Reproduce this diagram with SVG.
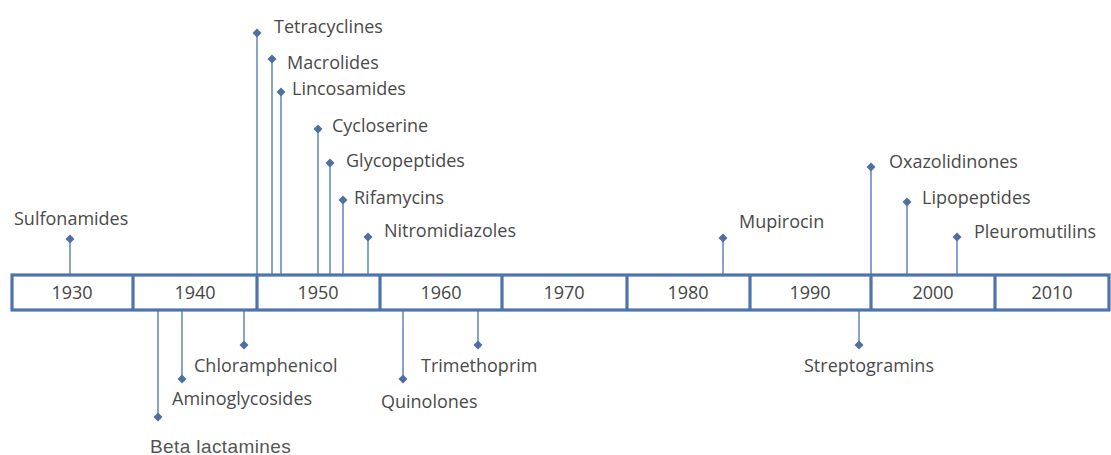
<svg xmlns="http://www.w3.org/2000/svg" width="1111" height="455" viewBox="0 0 1111 455">
<style>
.lbl{font-family:"Open Sans","Liberation Sans",sans-serif;font-size:18px;fill:#4a4a4a}
.yr{font-family:"Open Sans","Liberation Sans",sans-serif;font-size:18px;fill:#444;text-anchor:middle}
.bl{font-family:"Liberation Sans",Arial,sans-serif;font-size:19px;letter-spacing:0.4px;fill:#555}
.stem{stroke:#6a8cbf;stroke-width:1.6;fill:none}
.box{stroke:#4f74ad;stroke-width:3.2;fill:#fff}
.dv{stroke:#4f74ad;stroke-width:3.2}
</style>
<defs>
<path id="dm" d="M0,-4.5 L4.5,0 L0,4.5 L-4.5,0Z" fill="#4f6fa0"/>
</defs>
<rect width="1111" height="455" fill="#fff"/>
<g id="connectors">
<line class="stem" x1="70" y1="239" x2="70" y2="275"/>
<line class="stem" x1="257" y1="33" x2="257" y2="275"/>
<line class="stem" x1="272" y1="59" x2="272" y2="275"/>
<line class="stem" x1="281" y1="92" x2="281" y2="275"/>
<line class="stem" x1="318" y1="129" x2="318" y2="275"/>
<line class="stem" x1="330" y1="163" x2="330" y2="275"/>
<line class="stem" x1="343" y1="200" x2="343" y2="275"/>
<line class="stem" x1="368" y1="237" x2="368" y2="275"/>
<line class="stem" x1="723" y1="238" x2="723" y2="275"/>
<line class="stem" x1="871" y1="167" x2="871" y2="275"/>
<line class="stem" x1="907" y1="202" x2="907" y2="275"/>
<line class="stem" x1="957" y1="237" x2="957" y2="275"/>
<line class="stem" x1="158" y1="310" x2="158" y2="417"/>
<line class="stem" x1="182" y1="310" x2="182" y2="379"/>
<line class="stem" x1="244" y1="310" x2="244" y2="345"/>
<line class="stem" x1="403" y1="310" x2="403" y2="379"/>
<line class="stem" x1="478" y1="310" x2="478" y2="345"/>
<line class="stem" x1="859" y1="310" x2="859" y2="345"/>
</g>
<g id="timeline">
<rect class="box" x="12" y="275" width="1097" height="35"/>
<line class="dv" x1="133" y1="275" x2="133" y2="310"/>
<line class="dv" x1="257" y1="275" x2="257" y2="310"/>
<line class="dv" x1="380" y1="275" x2="380" y2="310"/>
<line class="dv" x1="502" y1="275" x2="502" y2="310"/>
<line class="dv" x1="627" y1="275" x2="627" y2="310"/>
<line class="dv" x1="750" y1="275" x2="750" y2="310"/>
<line class="dv" x1="871" y1="275" x2="871" y2="310"/>
<line class="dv" x1="995" y1="275" x2="995" y2="310"/>
<text class="yr" x="72" y="299">1930</text>
<text class="yr" x="195" y="299">1940</text>
<text class="yr" x="318" y="299">1950</text>
<text class="yr" x="441" y="299">1960</text>
<text class="yr" x="564" y="299">1970</text>
<text class="yr" x="688" y="299">1980</text>
<text class="yr" x="810" y="299">1990</text>
<text class="yr" x="933" y="299">2000</text>
<text class="yr" x="1052" y="299">2010</text>
</g>
<g id="sulfonamides"><use href="#dm" x="70" y="239"/><text class="lbl" x="14" y="225">Sulfonamides</text></g>
<g id="tetracyclines"><use href="#dm" x="257" y="33"/><text class="lbl" x="274" y="33">Tetracyclines</text></g>
<g id="macrolides"><use href="#dm" x="272" y="59"/><text class="lbl" x="287" y="69">Macrolides</text></g>
<g id="lincosamides"><use href="#dm" x="281" y="92"/><text class="lbl" x="292" y="95">Lincosamides</text></g>
<g id="cycloserine"><use href="#dm" x="318" y="129"/><text class="lbl" x="332" y="132">Cycloserine</text></g>
<g id="glycopeptides"><use href="#dm" x="330" y="163"/><text class="lbl" x="346" y="167">Glycopeptides</text></g>
<g id="rifamycins"><use href="#dm" x="343" y="200"/><text class="lbl" x="354" y="204">Rifamycins</text></g>
<g id="nitromidiazoles"><use href="#dm" x="368" y="237"/><text class="lbl" x="384" y="237">Nitromidiazoles</text></g>
<g id="mupirocin"><use href="#dm" x="723" y="238"/><text class="lbl" x="739" y="228">Mupirocin</text></g>
<g id="oxazolidinones"><use href="#dm" x="871" y="167"/><text class="lbl" x="889" y="168">Oxazolidinones</text></g>
<g id="lipopeptides"><use href="#dm" x="907" y="202"/><text class="lbl" x="922" y="204">Lipopeptides</text></g>
<g id="pleuromutilins"><use href="#dm" x="957" y="237"/><text class="lbl" x="974" y="238">Pleuromutilins</text></g>
<g id="beta-lactamines"><use href="#dm" x="158" y="417"/><text class="bl" x="150" y="453">Beta lactamines</text></g>
<g id="aminoglycosides"><use href="#dm" x="182" y="379"/><text class="lbl" x="172" y="405">Aminoglycosides</text></g>
<g id="chloramphenicol"><use href="#dm" x="244" y="345"/><text class="lbl" x="194" y="372">Chloramphenicol</text></g>
<g id="quinolones"><use href="#dm" x="403" y="379"/><text class="lbl" x="381" y="408">Quinolones</text></g>
<g id="trimethoprim"><use href="#dm" x="478" y="345"/><text class="lbl" x="421" y="372">Trimethoprim</text></g>
<g id="streptogramins"><use href="#dm" x="859" y="345"/><text class="lbl" x="804" y="372">Streptogramins</text></g>
</svg>
